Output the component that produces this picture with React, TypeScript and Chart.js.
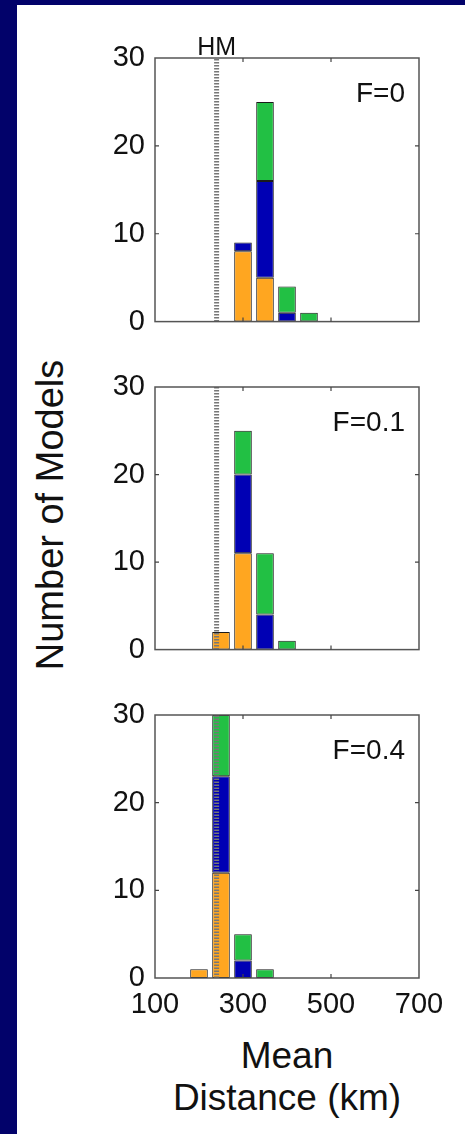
import React, { useEffect, useRef } from "react";
import { Chart, registerables } from "chart.js";

Chart.register(...registerables);

// ---------- data ----------
const binCenters = [200, 250, 300, 350, 400, 450];
const panelTitles = ["F=0", "F=0.1", "F=0.4"];

const orangeF0 = [null, null, 8, 5, null, null];
const blueF0 = [null, null, 1, 11, 1, null];
const greenF0 = [null, null, null, 9, 3, 1];

const orangeF01 = [null, 2, 11, null, null, null];
const blueF01 = [null, null, 9, 4, null, null];
const greenF01 = [null, null, 5, 7, 1, null];

const orangeF04 = [1, 12, null, null, null, null];
const blueF04 = [null, 11, 2, null, null, null];
const greenF04 = [null, 7, 3, 1, null, null];

const hmDistance = 240;
const hmLabel = "HM";
const yTickValues = [0, 10, 20, 30];
const xTickValues = [100, 300, 500, 700];
const yAxisTitle = "Number of Models";
const xAxisTitleLines = ["Mean", "Distance (km)"];

// ---------- styles ----------
const ORANGE = "#FFA620";
const BLUE = "#0000B4";
const GREEN = "#22C044";
const NAVY = "#02026A";
const FONT = "'Liberation Sans', Arial, Helvetica, sans-serif";
const CANVAS_W = 364;
const PAD_RIGHT = 45;

type PanelProps = {
  title: string;
  orange: (number | null)[];
  blue: (number | null)[];
  green: (number | null)[];
  showHM: boolean;
  showXTicks: boolean;
  top: number;
  height: number;
  xAxisHeight: number;
};

function Panel(props: PanelProps) {
  const ref = useRef<HTMLCanvasElement>(null);
  const { title, orange, blue, green, showHM, showXTicks, top, height, xAxisHeight } = props;

  useEffect(() => {
    if (!ref.current) return;
    const framePlugin = {
      id: "frame",
      afterDatasetsDraw(chart: any) {
        const { ctx, chartArea: a, scales } = chart;
        ctx.save();
        ctx.strokeStyle = "#555";
        ctx.lineWidth = 1.5;
        ctx.strokeRect(a.left, a.top, a.right - a.left, a.bottom - a.top);
        ctx.lineWidth = 1.2;
        ctx.strokeStyle = "#444";
        for (const v of xTickValues) {
          const px = scales.x.getPixelForValue(v);
          if (px <= a.left + 1 || px >= a.right - 1) continue;
          ctx.beginPath();
          ctx.moveTo(px, a.bottom);
          ctx.lineTo(px, a.bottom - 4);
          ctx.moveTo(px, a.top);
          ctx.lineTo(px, a.top + 4);
          ctx.stroke();
        }
        for (const v of yTickValues) {
          const py = scales.y.getPixelForValue(v);
          if (py <= a.top + 1 || py >= a.bottom - 1) continue;
          ctx.beginPath();
          ctx.moveTo(a.left, py);
          ctx.lineTo(a.left + 4, py);
          ctx.moveTo(a.right, py);
          ctx.lineTo(a.right - 4, py);
          ctx.stroke();
        }
        ctx.fillStyle = "#111";
        ctx.font = `28px ${FONT}`;
        ctx.textAlign = "right";
        ctx.textBaseline = "alphabetic";
        ctx.fillText(title, a.right - 14, a.top + 44);
        if (showHM) {
          ctx.font = `25px ${FONT}`;
          ctx.textAlign = "center";
          ctx.fillText(hmLabel, scales.x.getPixelForValue(hmDistance), a.top - 3);
        }
        ctx.restore();
      },
    };

    const barCommon = {
      type: "bar" as const,
      borderColor: "#1a1a1a",
      borderWidth: 1,
      borderSkipped: false,
      barPercentage: 1,
      categoryPercentage: 0.8,
      order: 1,
    };

    const chart = new Chart(ref.current, {
      type: "bar",
      data: {
        labels: binCenters,
        datasets: [
          { ...barCommon, label: "orange", data: orange, backgroundColor: ORANGE },
          { ...barCommon, label: "blue", data: blue, backgroundColor: BLUE },
          { ...barCommon, label: "green", data: green, backgroundColor: GREEN },
          {
            type: "line",
            label: hmLabel,
            data: [
              { x: hmDistance, y: yTickValues[0] },
              { x: hmDistance, y: yTickValues[yTickValues.length - 1] },
            ],
            borderColor: "#777",
            borderWidth: 5,
            borderDash: [1.5, 1.5],
            pointRadius: 0,
            order: 0,
          } as any,
        ],
      },
      options: {
        animation: false,
        responsive: false,
        events: [],
        layout: { padding: { top: 30, right: PAD_RIGHT, left: 0, bottom: 0 } },
        plugins: { legend: { display: false }, tooltip: { enabled: false } },
        scales: {
          x: {
            type: "linear",
            min: xTickValues[0],
            max: xTickValues[xTickValues.length - 1],
            offset: false,
            stacked: true,
            grid: { display: false, drawTicks: false },
            border: { display: false },
            ticks: {
              display: showXTicks,
              stepSize: 200,
              padding: 10,
              color: "#111",
              font: { family: FONT, size: 29 },
              maxRotation: 0,
              autoSkip: false,
            },
            afterFit: (s: any) => {
              s.height = xAxisHeight;
            },
          },
          y: {
            type: "linear",
            min: yTickValues[0],
            max: yTickValues[yTickValues.length - 1],
            stacked: true,
            grid: { display: false, drawTicks: false },
            border: { display: false },
            ticks: {
              stepSize: 10,
              padding: 10,
              color: "#111",
              font: { family: FONT, size: 29 },
            },
            afterFit: (s: any) => {
              s.width = 55;
            },
          },
        },
      },
      plugins: [framePlugin],
    } as any);
    return () => chart.destroy();
  }, []);

  return (
    <canvas
      ref={ref}
      width={CANVAS_W}
      height={height}
      style={{ position: "absolute", left: 100, top, width: CANVAS_W, height }}
    />
  );
}

export default function App() {
  return (
    <div
      style={{
        position: "fixed",
        left: 0,
        top: 0,
        width: 465,
        height: 1134,
        background: NAVY,
        overflow: "hidden",
        fontFamily: FONT,
        color: "#111",
      }}
    >
      <div style={{ position: "absolute", left: 17, top: 5, right: 0, bottom: 0, background: "#fff" }} />
      <Panel title={panelTitles[0]} orange={orangeF0} blue={blueF0} green={greenF0} showHM={true} showXTicks={false} top={28} height={321} xAxisHeight={20} />
      <Panel title={panelTitles[1]} orange={orangeF01} blue={blueF01} green={greenF01} showHM={false} showXTicks={false} top={357} height={320} xAxisHeight={20} />
      <Panel title={panelTitles[2]} orange={orangeF04} blue={blueF04} green={greenF04} showHM={false} showXTicks={true} top={685} height={338} xAxisHeight={45} />
      <div
        style={{
          position: "absolute",
          left: 50,
          top: 515,
          transform: "translate(-50%, -50%) rotate(-90deg)",
          whiteSpace: "nowrap",
          fontSize: 38,
          lineHeight: 1,
        }}
      >
        {yAxisTitle}
      </div>
      <div style={{ position: "absolute", left: 287, top: 1037, transform: "translateX(-50%)", whiteSpace: "nowrap", fontSize: 37, lineHeight: 1 }}>
        {xAxisTitleLines[0]}
      </div>
      <div style={{ position: "absolute", left: 287, top: 1079, transform: "translateX(-50%)", whiteSpace: "nowrap", fontSize: 37, lineHeight: 1 }}>
        {xAxisTitleLines[1]}
      </div>
    </div>
  );
}
